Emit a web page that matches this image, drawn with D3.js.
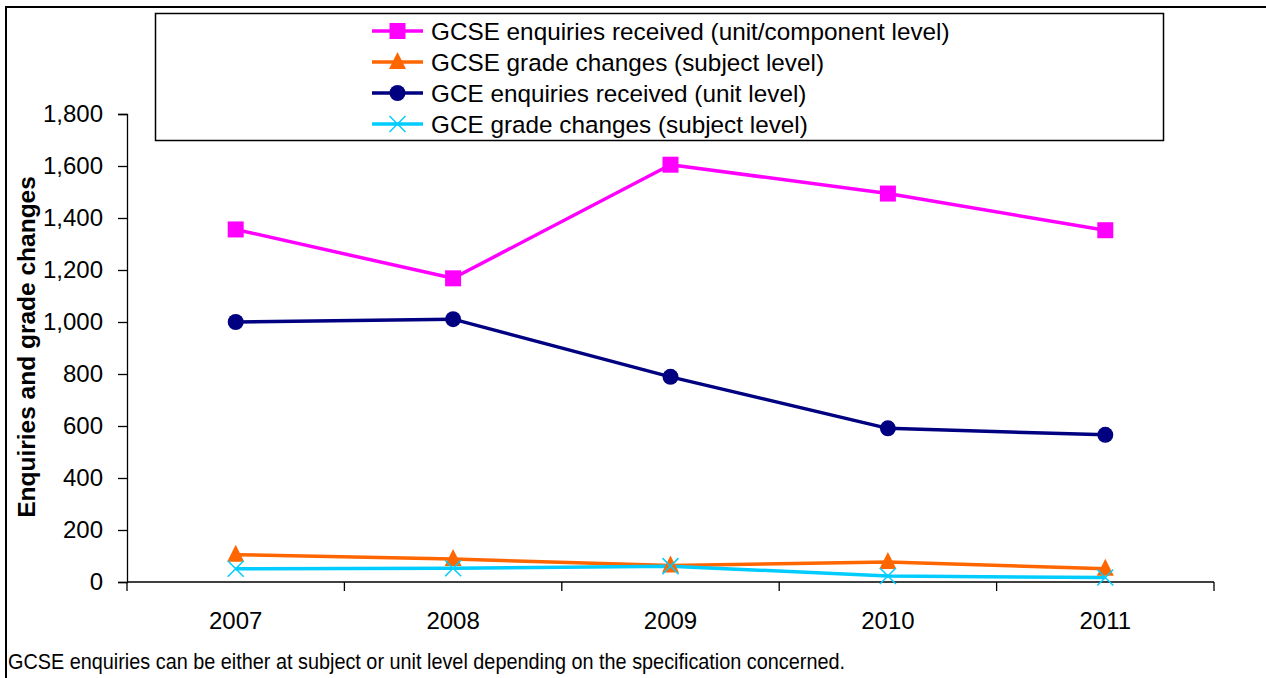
<!DOCTYPE html>
<html>
<head>
<meta charset="utf-8">
<script src="https://cdn.jsdelivr.net/npm/d3@7"></script>
<style>
  body { margin: 0; background: #fff; }
  svg text { font-family: Arial, "Liberation Sans", sans-serif; fill: #000; }
</style>
</head>
<body>
<div id="chart"></div>
<script>

// data
var years = ["2007", "2008", "2009", "2010", "2011"];
var gcseEnquiries = [1356, 1168, 1605, 1494, 1353];
var gcseChanges   = [105, 88, 63, 77, 51];
var gceEnquiries  = [1000, 1011, 789, 591, 566];
var gceChanges    = [51, 53, 61, 23, 17];
var yTicks = [0, 200, 400, 600, 800, 1000, 1200, 1400, 1600, 1800];

var seriesNames = [
  "GCSE enquiries received (unit/component level)",
  "GCSE grade changes (subject level)",
  "GCE enquiries received (unit level)",
  "GCE grade changes (subject level)"
];

// svg size
var w_svg = 1266;
var h_svg = 678;

var svg = d3.select("#chart")
  .append("svg")
    .attr("width", w_svg)
    .attr("height", h_svg);

// outer frame (only top and left edges show)
svg.append("path")
  .attr("d", "M6,678 V7 H1266")
  .attr("fill", "none")
  .attr("stroke", "#000")
  .attr("stroke-width", 2);

// scales
var xScale = d3.scaleBand().domain(years).range([127, 1214]).padding(0);
var yScale = d3.scaleLinear().domain([0, 1800]).range([582, 114]);

function cx(i) { return xScale(years[i]) + xScale.bandwidth() / 2; }

// series table
var series = [
  { name: seriesNames[0], values: gcseEnquiries, color: "#FF00FF", marker: "square" },
  { name: seriesNames[1], values: gcseChanges,   color: "#FF6600", marker: "triangle" },
  { name: seriesNames[2], values: gceEnquiries,  color: "#000080", marker: "circle" },
  { name: seriesNames[3], values: gceChanges,    color: "#00CCFF", marker: "cross" }
];

// y axis
var y_axis = d3.axisLeft(yScale)
  .tickValues(yTicks)
  .tickFormat(d3.format(","))
  .tickSize(9)
  .tickPadding(15);

var gy = svg.append("g")
  .attr("transform", "translate(127,0)")
  .call(y_axis);
gy.select(".domain").attr("stroke", "#000").attr("stroke-width", 1.3);
gy.selectAll(".tick line").attr("stroke", "#000").attr("stroke-width", 1.3);
gy.selectAll(".tick text")
  .style("font-size", "24px")
  .style("font-family", "Arial, 'Liberation Sans', sans-serif")
  .attr("fill", "#000");

// x axis: labels at band centres, ticks at band edges
var x_axis = d3.axisBottom(xScale).tickSize(0).tickPadding(30);
var gx = svg.append("g")
  .attr("transform", "translate(0,582)")
  .call(x_axis);
gx.select(".domain").remove();
gx.selectAll(".tick text")
  .style("font-size", "24px")
  .style("font-family", "Arial, 'Liberation Sans', sans-serif")
  .attr("fill", "#000");

svg.append("line")
  .attr("x1", 127).attr("x2", 1214)
  .attr("y1", 582).attr("y2", 582)
  .attr("stroke", "#000").attr("stroke-width", 1.3);

var edges = years.map(function(d) { return xScale(d); }).concat([xScale.range()[1]]);
svg.selectAll("line.xtick")
  .data(edges)
  .enter()
  .append("line")
    .attr("class", "xtick")
    .attr("x1", function(d) { return d; })
    .attr("x2", function(d) { return d; })
    .attr("y1", 582).attr("y2", 591)
    .attr("stroke", "#000").attr("stroke-width", 1.3);

// y label
svg.append("text")
  .attr("transform", "translate(35,347) rotate(-90)")
  .attr("text-anchor", "middle")
  .style("font-size", "24.5px")
  .style("font-weight", "bold")
  .text("Enquiries and grade changes");

// marker drawing
function drawMarker(g, type, color, x, y) {
  if (type === "square") {
    g.append("rect")
      .attr("x", x - 8).attr("y", y - 8)
      .attr("width", 16).attr("height", 16)
      .attr("fill", color);
  } else if (type === "triangle") {
    g.append("path")
      .attr("d", "M" + x + "," + (y - 10) + " L" + (x + 8.5) + "," + (y + 7) + " L" + (x - 8.5) + "," + (y + 7) + " Z")
      .attr("fill", color);
  } else if (type === "circle") {
    g.append("circle")
      .attr("cx", x).attr("cy", y).attr("r", 8)
      .attr("fill", color);
  } else if (type === "cross") {
    g.append("path")
      .attr("d", "M" + (x - 8) + "," + (y - 8) + " L" + (x + 8) + "," + (y + 8) +
                 " M" + (x + 8) + "," + (y - 8) + " L" + (x - 8) + "," + (y + 8))
      .attr("stroke", color)
      .attr("stroke-width", 1.5)
      .attr("fill", "none");
  }
}

// lines and markers
var line = d3.line()
  .x(function(d, i) { return cx(i); })
  .y(function(d) { return yScale(d); });

var plot = svg.append("g");
series.forEach(function(s) {
  plot.append("path")
    .datum(s.values)
    .attr("d", line)
    .attr("fill", "none")
    .attr("stroke", s.color)
    .attr("stroke-width", 3.5)
    .attr("stroke-linejoin", "round");
});
series.forEach(function(s) {
  s.values.forEach(function(v, i) {
    drawMarker(plot, s.marker, s.color, cx(i), yScale(v));
  });
});

// legend
var legend = svg.append("g");
legend.append("rect")
  .attr("x", 155.5).attr("y", 13.5)
  .attr("width", 1008).attr("height", 127)
  .attr("fill", "#fff")
  .attr("stroke", "#000")
  .attr("stroke-width", 1.5);

series.forEach(function(s, i) {
  var ly = 31 + i * 31;
  legend.append("line")
    .attr("x1", 372).attr("x2", 423)
    .attr("y1", ly).attr("y2", ly)
    .attr("stroke", s.color)
    .attr("stroke-width", 3.5);
  drawMarker(legend, s.marker, s.color, 397.5, ly);
  legend.append("text")
    .attr("x", 431)
    .attr("y", ly)
    .attr("dy", "0.35em")
    .style("font-size", "24.3px")
    .text(s.name);
});

// footnote
svg.append("text")
  .attr("x", 8)
  .attr("y", 669)
  .attr("textLength", 837)
  .attr("lengthAdjust", "spacingAndGlyphs")
  .style("font-size", "22px")
  .text("GCSE enquiries can be either at subject or unit level depending on the specification concerned.");

</script>
</body>
</html>
